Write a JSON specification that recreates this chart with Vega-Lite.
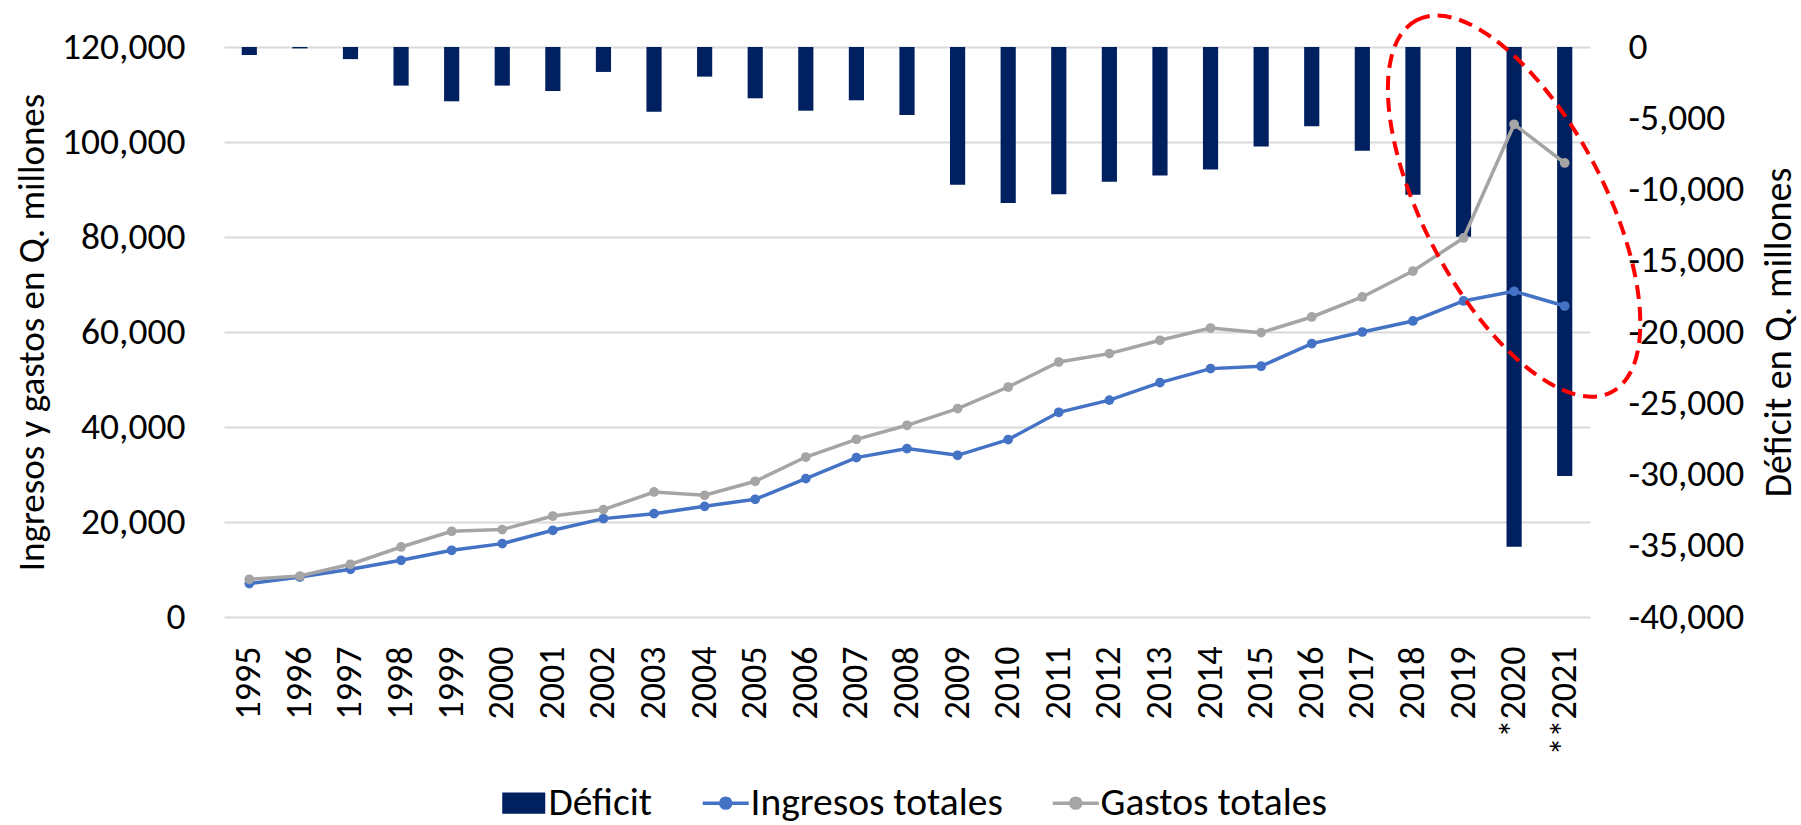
{
  "$schema": "https://vega.github.io/schema/vega-lite/v6.json",
  "width": 1366,
  "height": 570,
  "autosize": {"type": "none"},
  "padding": {"left": 224, "top": 47, "right": 211, "bottom": 208},
  "background": "white",
  "config": {
    "view": {"stroke": null},
    "font": "Carlito, Liberation Sans Narrow, Liberation Sans, sans-serif",
    "axis": {"labelFont": "Carlito, Liberation Sans Narrow, Liberation Sans, sans-serif", "titleFont": "Carlito, Liberation Sans Narrow, Liberation Sans, sans-serif", "labelColor": "#000000", "titleColor": "#000000", "titleFontWeight": "normal"},
    "legend": {"labelFont": "Carlito, Liberation Sans Narrow, Liberation Sans, sans-serif", "labelColor": "#000000"}
  },
  "datasets": {
    "fiscal": [
      {"anio": "1995", "ingresos": 7030, "gastos": 7940, "deficit": -560},
      {"anio": "1996", "ingresos": 8420, "gastos": 8630, "deficit": -100},
      {"anio": "1997", "ingresos": 10040, "gastos": 11100, "deficit": -850},
      {"anio": "1998", "ingresos": 11940, "gastos": 14740, "deficit": -2710},
      {"anio": "1999", "ingresos": 14040, "gastos": 18040, "deficit": -3810},
      {"anio": "2000", "ingresos": 15450, "gastos": 18400, "deficit": -2710},
      {"anio": "2001", "ingresos": 18250, "gastos": 21260, "deficit": -3090},
      {"anio": "2002", "ingresos": 20710, "gastos": 22610, "deficit": -1750},
      {"anio": "2003", "ingresos": 21760, "gastos": 26320, "deficit": -4540},
      {"anio": "2004", "ingresos": 23300, "gastos": 25620, "deficit": -2080},
      {"anio": "2005", "ingresos": 24780, "gastos": 28570, "deficit": -3600},
      {"anio": "2006", "ingresos": 29130, "gastos": 33680, "deficit": -4470},
      {"anio": "2007", "ingresos": 33550, "gastos": 37410, "deficit": -3740},
      {"anio": "2008", "ingresos": 35450, "gastos": 40360, "deficit": -4770},
      {"anio": "2009", "ingresos": 34040, "gastos": 43870, "deficit": -9660},
      {"anio": "2010", "ingresos": 37350, "gastos": 48420, "deficit": -10950},
      {"anio": "2011", "ingresos": 43100, "gastos": 53680, "deficit": -10340},
      {"anio": "2012", "ingresos": 45650, "gastos": 55450, "deficit": -9450},
      {"anio": "2013", "ingresos": 49340, "gastos": 58250, "deficit": -9010},
      {"anio": "2014", "ingresos": 52290, "gastos": 60840, "deficit": -8590},
      {"anio": "2015", "ingresos": 52800, "gastos": 59870, "deficit": -6990},
      {"anio": "2016", "ingresos": 57550, "gastos": 63160, "deficit": -5570},
      {"anio": "2017", "ingresos": 60000, "gastos": 67370, "deficit": -7280},
      {"anio": "2018", "ingresos": 62320, "gastos": 72840, "deficit": -10360},
      {"anio": "2019", "ingresos": 66530, "gastos": 79790, "deficit": -13310},
      {"anio": "*2020", "ingresos": 68570, "gastos": 103730, "deficit": -35070},
      {"anio": "**2021", "ingresos": 65470, "gastos": 95580, "deficit": -30110}
    ],
    "anotacion": [
      {"anio": "*2020", "valor": 86500}
    ]
  },
  "data": {"name": "fiscal"},
  "encoding": {
    "x": {
      "field": "anio",
      "type": "ordinal",
      "sort": null,
      "scale": {"paddingInner": 0.7, "paddingOuter": 0.35},
      "axis": {
        "title": null,
        "labelAngle": -90,
        "labelFontSize": 36,
        "labelPadding": 29,
        "domain": false,
        "ticks": false,
        "tickSize": 0,
        "grid": false
      }
    }
  },
  "layer": [
    {
      "mark": {"type": "bar", "color": "#002060"},
      "encoding": {
        "y": {
          "field": "deficit",
          "type": "quantitative",
          "scale": {"domain": [-40000, 0], "nice": false, "zero": false},
          "axis": {
            "orient": "right",
            "title": "Déficit en Q. millones",
            "titleFontSize": 38,
            "titleAngle": 270,
            "titlePadding": 55,
            "values": [-40000, -35000, -30000, -25000, -20000, -15000, -10000, -5000, 0],
            "format": ",.0f",
            "labelExpr": "replace(datum.label, '\u2212', '-')",
            "labelFontSize": 37.5,
            "labelPadding": 38,
            "domain": false,
            "ticks": false,
            "tickSize": 0,
            "grid": false
          }
        },
        "color": {
          "datum": "Déficit",
          "scale": {
            "domain": ["Déficit", "Ingresos totales", "Gastos totales"],
            "range": ["#002060", "#4472C4", "#A5A5A5"]
          },
          "legend": {
            "orient": "none",
            "legendX": 280,
            "legendY": 736,
            "direction": "horizontal",
            "title": null,
            "labelFontSize": 39.5,
            "labelLimit": 0,
            "labelOffset": 5,
            "columnPadding": 42,
            "symbolSize": 2116,
            "symbolStrokeWidth": 3,
            "encode": {
              "symbols": {
                "update": {
                  "shape": {"signal": "datum.label === 'Déficit' ? 'M-0.935,-0.457H0.935V0.457H-0.935Z' : 'M-1,0H1M0.217,0A0.217,0.217,0,1,1,-0.217,0A0.217,0.217,0,1,1,0.217,0'"},
                  "fill": {"scale": "color", "field": "value"},
                  "stroke": {"scale": "color", "field": "value"},
                  "strokeWidth": {"signal": "datum.label === 'Déficit' ? 0 : 3.5"},
                  "opacity": {"value": 1}
                }
              }
            }
          }
        }
      }
    },
    {
      "layer": [
        {
          "mark": {"type": "line", "strokeWidth": 3.5, "point": {"filled": true, "size": 95}},
          "encoding": {
            "y": {
              "field": "ingresos",
              "type": "quantitative",
              "scale": {"domain": [0, 120000], "nice": false},
              "axis": {
                "orient": "left",
                "title": "Ingresos y gastos en Q. millones",
                "titleFontSize": 37,
                "titlePadding": 10,
                "values": [0, 20000, 40000, 60000, 80000, 100000, 120000],
                "format": ",.0f",
                "labelFontSize": 37.5,
                "labelPadding": 39,
                "domain": false,
                "ticks": false,
                "tickSize": 0,
                "grid": true,
                "gridColor": "#d9d9d9",
                "gridWidth": 2
              }
            },
            "color": {"datum": "Ingresos totales"}
          }
        },
        {
          "mark": {"type": "line", "strokeWidth": 3.5, "point": {"filled": true, "size": 95}},
          "encoding": {
            "y": {"field": "gastos", "type": "quantitative"},
            "color": {"datum": "Gastos totales"}
          }
        },
        {
          "data": {"name": "anotacion"},
          "mark": {
            "type": "point",
            "shape": "M-0.465,-0.885A1,0.43,62.3,0,1,0.381,-0.2A1,0.43,62.3,0,1,0.465,0.885A1,0.43,62.3,0,1,-0.381,0.2A1,0.43,62.3,0,1,-0.465,-0.885Z",
            "size": 176400,
            "filled": false,
            "stroke": "#ff0000",
            "strokeWidth": 4,
            "strokeDash": [14, 8],
            "opacity": 1
          },
          "encoding": {
            "y": {"field": "valor", "type": "quantitative"}
          }
        }
      ]
    }
  ],
  "resolve": {"scale": {"y": "independent", "color": "shared"}}
}
